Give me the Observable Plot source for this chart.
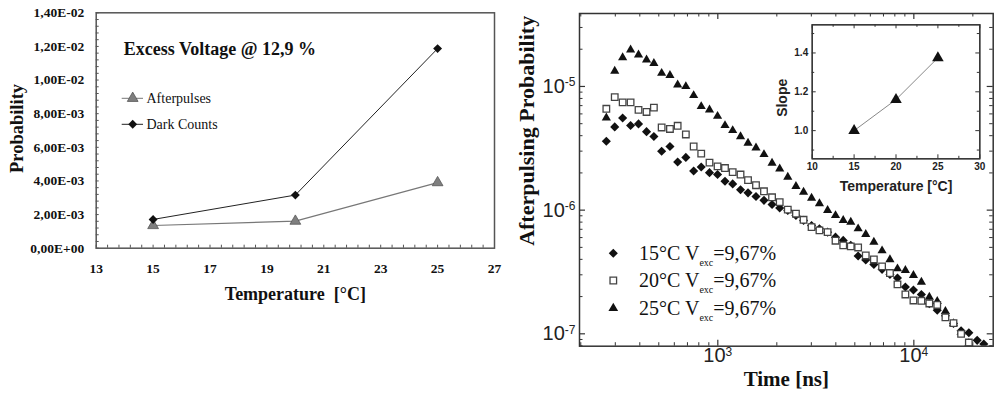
<!DOCTYPE html>
<html><head><meta charset="utf-8">
<script src="https://cdn.jsdelivr.net/npm/d3@7"></script>
<script src="https://cdn.jsdelivr.net/npm/@observablehq/plot@0.6"></script>
<style>
body{margin:0;background:#fff;}
#wrap{position:relative;width:1000px;height:399px;overflow:hidden;background:#fff;}
#wrap > svg{position:absolute;}
</style></head><body><div id="wrap"></div>
<script>
// ---------- Left panel data ----------
const temperatures = [15, 20, 25];
const afterpulses = [0.00135, 0.00161, 0.0039];
const darkCounts = [0.00171, 0.00316, 0.01187];
const leftSeriesNames = ["Afterpulses", "Dark Counts"];
const leftTitle = "Excess Voltage @ 12,9 %";
const leftXTicks = [13, 15, 17, 19, 21, 23, 25, 27];
const leftYTicks = [0, 0.002, 0.004, 0.006, 0.008, 0.010, 0.012, 0.014];

// ---------- Right panel data ----------
const timeNs = [270, 298, 327, 359, 394, 433, 472, 517, 570, 624, 687, 753, 823, 907, 997, 1088, 1191, 1306, 1426, 1566,
  1720, 1891, 2069, 2275, 2504, 2738, 3008, 3300, 3632, 3985, 4363, 4767, 5198, 5685, 6253, 6886, 7553, 8251, 9054, 9953,
  10927, 11995, 13164, 14490, 15933, 17420, 19080, 21040, 22740];
const prob15 = [3.61e-6, 4.71e-6, 5.56e-6, 4.84e-6, 4.98e-6, 4.31e-6, 3.94e-6, 2.99e-6, 3.27e-6, 2.45e-6,
  2.67e-6, 2.07e-6, 2.23e-6, 2.01e-6, 1.94e-6, 1.71e-6, 1.63e-6, 1.46e-6, 1.38e-6, 1.29e-6,
  1.20e-6, 1.11e-6, 1.04e-6, 9.95e-7, 9.06e-7, 8.26e-7, 7.52e-7, 7.08e-7, 6.64e-7, 6.05e-7,
  5.69e-7, 5.19e-7, 4.26e-7, 3.96e-7, 3.64e-7, 3.32e-7, 3.02e-7, 2.83e-7, 2.39e-7, 2.26e-7,
  2.08e-7, 1.75e-7, 1.55e-7, 1.40e-7, 1.21e-7, 1.06e-7, 1.02e-7, 8.85e-8, 8.28e-8];
const prob20 = [6.6e-6, 8.19e-6, 7.43e-6, 7.43e-6, 6.46e-6, 6.22e-6, 6.74e-6, 4.66e-6, 4.53e-6, 4.81e-6,
  4.09e-6, 3.27e-6, 2.86e-6, 2.42e-6, 2.26e-6, 2.19e-6, 2.03e-6, 1.94e-6, 1.75e-6, 1.59e-6,
  1.42e-6, 1.27e-6, 1.16e-6, 1.01e-6, 9.35e-7, 8.36e-7, 7.29e-7, 6.86e-7, 6.64e-7, 5.66e-7,
  5.19e-7, 5.09e-7, 4.99e-7, 4.30e-7, 3.99e-7, 3.51e-7, 3.10e-7, 2.51e-7, 2.08e-7, 1.86e-7,
  1.85e-7, 1.76e-7, 1.71e-7, 1.36e-7, 1.22e-7, 1.0e-7, 8.5e-8];
const prob25 = [5.58e-6, 1.33e-5, 1.71e-5, 1.98e-5, 1.80e-5, 1.64e-5, 1.54e-5, 1.28e-5, 1.23e-5, 1.03e-5,
  1.0e-5, 8.46e-6, 6.89e-6, 6.48e-6, 5.75e-6, 4.84e-6, 4.41e-6, 3.94e-6, 3.48e-6, 3.19e-6,
  2.82e-6, 2.40e-6, 2.16e-6, 1.85e-6, 1.56e-6, 1.40e-6, 1.25e-6, 1.13e-6, 9.95e-7, 9.06e-7,
  8.26e-7, 8.0e-7, 7.08e-7, 6.37e-7, 5.51e-7, 4.70e-7, 3.99e-7, 3.36e-7, 3.26e-7, 2.97e-7,
  2.62e-7, 1.98e-7, 1.83e-7, 1.52e-7, 1.21e-7, 1.03e-7, 8.36e-8];
const rightSeriesTemps = ["15°C", "20°C", "25°C"];
const vexcLabel = "=9,67%";
const rightXMajor = [1000, 10000];
const rightXMinor = [200, 300, 400, 500, 600, 700, 800, 900, 2000, 3000, 4000, 5000, 6000, 7000, 8000, 9000, 20000];
const rightYMajor = [1e-7, 1e-6, 1e-5];
const rightYMinor = [8e-8, 9e-8, 2e-7, 3e-7, 4e-7, 5e-7, 6e-7, 7e-7, 8e-7, 9e-7,
  2e-6, 3e-6, 4e-6, 5e-6, 6e-6, 7e-6, 8e-6, 9e-6, 2e-5, 3e-5];

// ---------- Inset data ----------
const insetTemps = [15, 20, 25];
const insetSlope = [1.0, 1.16, 1.375];
const insetXMajor = [10, 15, 20, 25, 30];
const insetXMinor = [12.5, 17.5, 22.5, 27.5];
const insetYMajor = [1.0, 1.2, 1.4];
const insetYMinor = [0.9, 1.1, 1.3, 1.5];

// ---------- helpers ----------
function fmtE(v) {
  if (v === 0) return "0,00E+00";
  const [m, e] = v.toExponential(2).split("e");
  const n = +e;
  return m.replace(".", ",") + "E" + (n < 0 ? "-" : "+") + String(Math.abs(n)).padStart(2, "0");
}
function pow10(d) { return "10^" + Math.round(Math.log10(d)); }
function inTicksX(values, len, innerH, sides, stroke, sw) {
  const out = [];
  if (sides.includes("bottom")) out.push(Plot.ruleX(values, {x: d => d, insetTop: innerH - len, stroke, strokeWidth: sw}));
  if (sides.includes("top")) out.push(Plot.ruleX(values, {x: d => d, insetBottom: innerH - len, stroke, strokeWidth: sw}));
  return out;
}
function inTicksY(values, len, innerW, sides, stroke, sw) {
  const out = [];
  if (sides.includes("left")) out.push(Plot.ruleY(values, {y: d => d, insetRight: innerW - len, stroke, strokeWidth: sw}));
  if (sides.includes("right")) out.push(Plot.ruleY(values, {y: d => d, insetLeft: innerW - len, stroke, strokeWidth: sw}));
  return out;
}
function superscripts(svg, supSize) {
  d3.select(svg).selectAll("text").each(function () {
    const m = /^10\^(.+)$/.exec(this.textContent);
    if (!m) return;
    const el = d3.select(this);
    el.text(null);
    el.append("tspan").text("10");
    el.append("tspan").attr("dy", "-0.55em").attr("font-size", supSize).text(m[1]);
  });
}
const serif = "'Liberation Serif','Times New Roman',Times,serif";
const sans = "'Liberation Sans',Arial,Helvetica,sans-serif";
const wrap = document.getElementById("wrap");

// ---------- Left panel ----------
{
  const W = 500, H = 310, ml = 95.7, mr = 6, mt = 12.3, mb = 62.3;
  const iW = W - ml - mr, iH = H - mt - mb;
  const leftXMinor = d3.range(13, 27.01, 0.4);
  const leftYMinor = d3.range(0, 0.01401, 0.0004);
  const rows = temperatures.map((t, i) => ({t, ap: afterpulses[i], dc: darkCounts[i]}));
  const p = Plot.plot({
    width: W, height: H, marginLeft: ml, marginRight: mr, marginTop: mt, marginBottom: mb,
    style: {fontFamily: serif, fontWeight: "bold", fontSize: "13px", color: "#111", background: "transparent", overflow: "visible"},
    x: {domain: [13, 27]},
    y: {domain: [0, 0.014]},
    marks: [
      Plot.frame({stroke: "#555", strokeWidth: 1.5}),
      ...inTicksX(leftXMinor, 3, iH, ["bottom"], "#555", 1),
      ...inTicksY(leftYMinor, 3, iW, ["left"], "#555", 1),
      Plot.axisX({ticks: leftXTicks, tickSize: 0, tickPadding: 15, tickFormat: d => String(d), label: null, fontSize: 13.5, fontWeight: "bold"}),
      Plot.axisY({ticks: leftYTicks, tickSize: 0, tickPadding: 12, tickFormat: fmtE, label: null, fontSize: 13.5, fontWeight: "bold"}),
      Plot.line(rows, {x: "t", y: "ap", stroke: "#777", strokeWidth: 1.1}),
      Plot.line(rows, {x: "t", y: "dc", stroke: "#222", strokeWidth: 1}),
      Plot.dot(rows, {x: "t", y: "ap", symbol: "triangle", r: 4, fill: "#7f7f7f", stroke: "#555", strokeWidth: 0.8}),
      Plot.dot(rows, {x: "t", y: "dc", symbol: "diamond2", r: 4, fill: "#111"}),
      Plot.text(["Temperature\u00a0 [°C]"], {frameAnchor: "bottom", dy: 52, fontSize: 18}),
      Plot.text(["Probability"], {frameAnchor: "left", textAnchor: "middle", dx: -79, dy: -2, rotate: -90, fontSize: 18.5}),
      Plot.text([leftTitle], {frameAnchor: "top-left", dx: 27.6, dy: 29.5, textAnchor: "start", fontSize: 18})
    ]
  });
  p.style.left = "0px"; p.style.top = "0px";
  wrap.appendChild(p);
}

// ---------- Right panel ----------
{
  const W = 500, H = 399, ml = 79, mr = 7.3, mt = 13, mb = 53.3;
  const iW = W - ml - mr, iH = H - mt - mb;
  const d15 = prob15.map((p, i) => ({t: timeNs[i], p}));
  const d20 = prob20.map((p, i) => ({t: timeNs[i], p}));
  const d25 = prob25.map((p, i) => ({t: timeNs[i], p}));
  const p = Plot.plot({
    width: W, height: H, marginLeft: ml, marginRight: mr, marginTop: mt, marginBottom: mb,
    style: {fontFamily: sans, fontSize: "20px", color: "#222", background: "transparent", overflow: "visible"},
    x: {type: "log", domain: [197, 25400]},
    y: {type: "log", domain: [7.94e-8, 3.89e-5]},
    marks: [
      ...inTicksX(rightXMajor, 6, iH, ["bottom", "top"], "#333", 1.2),
      ...inTicksX(rightXMinor, 3.5, iH, ["bottom", "top"], "#333", 1),
      ...inTicksY(rightYMajor, 6, iW, ["left", "right"], "#333", 1.2),
      ...inTicksY(rightYMinor, 3.5, iW, ["left", "right"], "#333", 1),
      Plot.axisX({ticks: rightXMajor, tickSize: 0, tickPadding: 2, tickFormat: pow10, label: null, fontSize: 20}),
      Plot.axisY({ticks: rightYMajor, tickSize: 0, tickPadding: 4, tickFormat: pow10, label: null, fontSize: 20}),
      Plot.dot(d25, {x: "t", y: "p", symbol: "triangle", r: 3.4, fill: "#111", clip: true}),
      Plot.dot(d15, {x: "t", y: "p", symbol: "diamond2", r: 4.1, fill: "#111", clip: true}),
      Plot.dot(d20, {x: "t", y: "p", symbol: "square", r: 3.7, fill: "white", stroke: "#444", strokeWidth: 1.3, clip: true}),
      Plot.frame({stroke: "#333", strokeWidth: 1.5}),
      Plot.text(["Time [ns]"], {frameAnchor: "bottom", dy: 40, fontSize: 21, fontFamily: serif, fontWeight: "bold", fill: "#111"}),
      Plot.text(["Afterpulsing Probability"], {frameAnchor: "left", textAnchor: "middle", dx: -53, dy: -49, rotate: -90, fontSize: 22, fontFamily: serif, fontWeight: "bold", fill: "#111"})
    ]
  });
  superscripts(p, "12px");
  p.style.left = "500px"; p.style.top = "0px";
  wrap.appendChild(p);
}

// ---------- Inset ----------
{
  const W = 220, H = 185, ml = 46.7, mr = 5.7, mt = 9.3, mb = 41.7;
  const iW = W - ml - mr, iH = H - mt - mb;
  const rows = insetTemps.map((t, i) => ({t, s: insetSlope[i]}));
  const p = Plot.plot({
    width: W, height: H, marginLeft: ml, marginRight: mr, marginTop: mt, marginBottom: mb,
    style: {fontFamily: sans, fontWeight: "bold", fontSize: "10px", color: "#222", background: "transparent", overflow: "visible"},
    x: {domain: [10, 30]},
    y: {domain: [0.855, 1.545]},
    marks: [
      Plot.frame({fill: "white", stroke: "#333", strokeWidth: 1.2}),
      ...inTicksX(insetXMajor, 4, iH, ["bottom", "top"], "#333", 1),
      ...inTicksX(insetXMinor, 2.5, iH, ["bottom", "top"], "#333", 1),
      ...inTicksY(insetYMajor, 4, iW, ["left", "right"], "#333", 1),
      ...inTicksY(insetYMinor, 2.5, iW, ["left", "right"], "#333", 1),
      Plot.axisX({ticks: insetXMajor, tickSize: 0, tickPadding: 4, tickFormat: d => String(d), label: null, fontSize: 10, fontWeight: "bold"}),
      Plot.axisY({ticks: insetYMajor, tickSize: 0, tickPadding: 4, tickFormat: d => d.toFixed(1), label: null, fontSize: 10, fontWeight: "bold"}),
      Plot.line(rows, {x: "t", y: "s", stroke: "#888", strokeWidth: 1}),
      Plot.dot(rows, {x: "t", y: "s", symbol: "triangle", r: 4.3, fill: "#111"}),
      Plot.frame({stroke: "#333", strokeWidth: 1.2}),
      Plot.text(["Temperature [°C]"], {frameAnchor: "bottom", dy: 32, fontSize: 14}),
      Plot.text(["Slope"], {frameAnchor: "left", textAnchor: "middle", dx: -30, dy: 6, rotate: -90, fontSize: 14})
    ]
  });
  p.style.left = "765px"; p.style.top = "15px";
  wrap.appendChild(p);
}

// ---------- Legends (overlay) ----------
{
  const ov = d3.create("svg").attr("width", 1000).attr("height", 399).style("left", "0px").style("top", "0px");
  const sym = (type, r) => d3.symbol().type(type).size(Math.PI * r * r)();
  const leftLeg = [
    {name: leftSeriesNames[0], y: 98.3, type: d3.symbolTriangle, r: 4, fill: "#7f7f7f", stroke: "#555", line: "#777"},
    {name: leftSeriesNames[1], y: 124.3, type: d3.symbolDiamond2, r: 4, fill: "#111", stroke: "none", line: "#222"}
  ];
  for (const l of leftLeg) {
    ov.append("line").attr("x1", 121.7).attr("x2", 143).attr("y1", l.y).attr("y2", l.y).attr("stroke", l.line).attr("stroke-width", 1);
    ov.append("path").attr("d", sym(l.type, l.r)).attr("transform", `translate(132.7,${l.y})`).attr("fill", l.fill).attr("stroke", l.stroke).attr("stroke-width", 0.8);
    ov.append("text").attr("x", 146.5).attr("y", l.y).attr("dy", "0.33em").attr("font-family", serif).attr("font-size", 14).attr("fill", "#111").text(l.name);
  }
  const rightLeg = [
    {y: 253.3, type: d3.symbolDiamond2, r: 4.1, fill: "#111", stroke: "none"},
    {y: 280.5, type: d3.symbolSquare, r: 3.7, fill: "white", stroke: "#444"},
    {y: 308.3, type: d3.symbolTriangle, r: 3.6, fill: "#111", stroke: "none"}
  ];
  rightLeg.forEach((l, i) => {
    ov.append("path").attr("d", sym(l.type, l.r)).attr("transform", `translate(613.3,${l.y})`).attr("fill", l.fill).attr("stroke", l.stroke).attr("stroke-width", 1.3);
    const t = ov.append("text").attr("x", 639).attr("y", l.y + 6.7).attr("font-family", serif).attr("font-size", 20).attr("fill", "#111");
    t.append("tspan").text(rightSeriesTemps[i] + " V");
    t.append("tspan").attr("dy", 6).attr("font-size", 10).text("exc");
    t.append("tspan").attr("dy", -6).text(vexcLabel);
  });
  wrap.appendChild(ov.node());
}
</script>
</body></html>
